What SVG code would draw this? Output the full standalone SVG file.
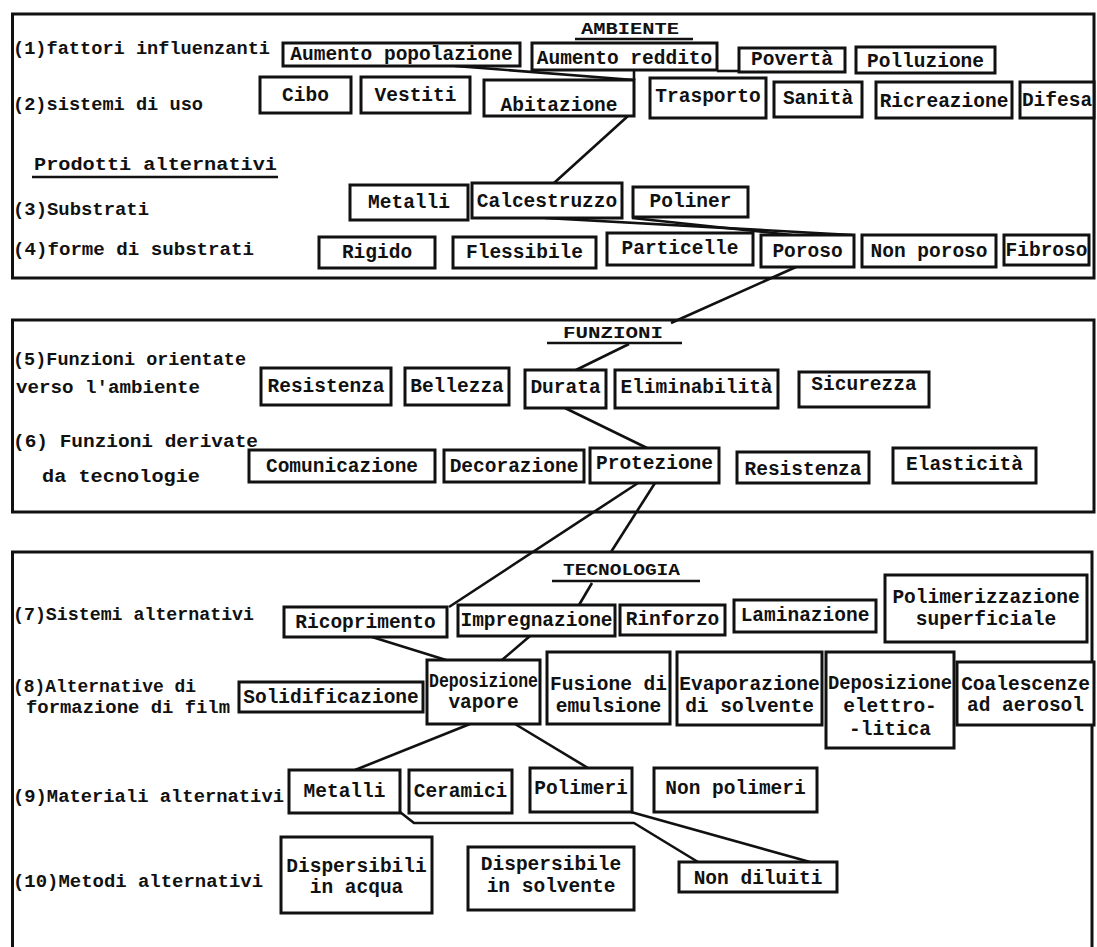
<svg xmlns="http://www.w3.org/2000/svg" width="1097" height="947" viewBox="0 0 1097 947">
  <style>
    .sec { fill: none; stroke: #111; stroke-width: 3; }
    .box { fill: #fff; stroke: #111; stroke-width: 3; }
    .conn { fill: none; stroke: #111; stroke-width: 2.6; stroke-linejoin: round; }
    .ul { stroke: #111; stroke-width: 2.4; }
    text { font-family: "Liberation Mono", "Courier New", monospace; font-weight: bold; fill: #111; }
    .t { font-size: 19.5px; text-anchor: middle; }
    .lbl { font-size: 19px; }
    .ttl { font-size: 16px; }
  </style>
  <rect width="1097" height="947" fill="#fff"/>

  <!-- section frames -->
  <g id="sections">
    <rect class="sec" x="12.5" y="14" width="1081.5" height="264"/>
    <rect class="sec" x="12.5" y="320" width="1081.5" height="192"/>
    <path class="sec" d="M12.5,947 V552 H1092 V947"/>
  </g>

  <!-- section titles -->
  <g id="title-ambiente">
    <text class="ttl" x="581" y="34" textLength="98" lengthAdjust="spacingAndGlyphs">AMBIENTE</text>
    <line class="ul" x1="575" y1="39" x2="693" y2="39"/>
  </g>
  <g id="title-funzioni">
    <text class="ttl" x="563" y="338" textLength="100" lengthAdjust="spacingAndGlyphs">FUNZIONI</text>
    <line class="ul" x1="547" y1="343" x2="682" y2="343"/>
  </g>
  <g id="title-tecnologia">
    <text class="ttl" x="563" y="575" textLength="117" lengthAdjust="spacingAndGlyphs">TECNOLOGIA</text>
    <line class="ul" x1="552" y1="581" x2="700" y2="581"/>
  </g>

  <!-- row labels -->
  <g id="row-labels">
    <text class="lbl" x="13" y="54" textLength="257" lengthAdjust="spacingAndGlyphs">(1)fattori influenzanti</text>
    <text class="lbl" x="13" y="110" textLength="190" lengthAdjust="spacingAndGlyphs">(2)sistemi di uso</text>
    <text class="lbl" x="34" y="170" textLength="243" lengthAdjust="spacingAndGlyphs">Prodotti alternativi</text>
    <line class="ul" x1="32" y1="177" x2="278" y2="177"/>
    <text class="lbl" x="13" y="215" textLength="136" lengthAdjust="spacingAndGlyphs">(3)Substrati</text>
    <text class="lbl" x="13" y="255" textLength="241" lengthAdjust="spacingAndGlyphs">(4)forme di substrati</text>
    <text class="lbl" x="13" y="365" textLength="233" lengthAdjust="spacingAndGlyphs">(5)Funzioni orientate</text>
    <text class="lbl" x="16" y="393" textLength="184" lengthAdjust="spacingAndGlyphs">verso l'ambiente</text>
    <text class="lbl" x="13" y="447" textLength="245" lengthAdjust="spacingAndGlyphs">(6) Funzioni derivate</text>
    <text class="lbl" x="42" y="482" textLength="158" lengthAdjust="spacingAndGlyphs">da tecnologie</text>
    <text class="lbl" x="13" y="620" textLength="241" lengthAdjust="spacingAndGlyphs">(7)Sistemi alternativi</text>
    <text class="lbl" x="13" y="692" textLength="183" lengthAdjust="spacingAndGlyphs">(8)Alternative di</text>
    <text class="lbl" x="26" y="713" textLength="204" lengthAdjust="spacingAndGlyphs">formazione di film</text>
    <text class="lbl" x="13" y="802" textLength="271" lengthAdjust="spacingAndGlyphs">(9)Materiali alternativi</text>
    <text class="lbl" x="13" y="887" textLength="250" lengthAdjust="spacingAndGlyphs">(10)Metodi alternativi</text>
  </g>

  <!-- connectors -->
  <g id="connectors">
    <path class="conn" d="M455,66 L634,80"/>
    <path class="conn" d="M634,70 L634,80"/>
    <path class="conn" d="M717,71 L739,71"/>
    <path class="conn" d="M628,116 L554,183"/>
    <path class="conn" d="M545,218 L852,235"/>
    <path class="conn" d="M632,218 L792,235"/>
    <path class="conn" d="M796,267 L671,323"/>
    <path class="conn" d="M629,344 L576,370"/>
    <path class="conn" d="M565,408 L647,448"/>
    <path class="conn" d="M638,483 L449,607"/>
    <path class="conn" d="M655,483 L611,552"/>
    <path class="conn" d="M592,583 L579,605"/>
    <path class="conn" d="M372,637 L446,660"/>
    <path class="conn" d="M530,636 L502,660"/>
    <path class="conn" d="M470,724 L355,770"/>
    <path class="conn" d="M515,724 L588,768"/>
    <path class="conn" d="M400,812 L414,823 L634,823 L698,862"/>
    <path class="conn" d="M631,812 L810,862"/>
  </g>

  <!-- AMBIENTE: fattori influenzanti -->
  <g id="aumento-popolazione"><rect class="box" x="283" y="43" width="237" height="23"/><text class="t" x="401.5" y="60">Aumento popolazione</text></g>
  <g id="aumento-reddito"><rect class="box" x="532" y="43" width="185" height="27"/><text class="t" x="624.5" y="64">Aumento reddito</text></g>
  <g id="poverta"><rect class="box" x="739" y="48" width="106" height="24"/><text class="t" x="792" y="65">Povertà</text></g>
  <g id="polluzione"><rect class="box" x="856" y="47" width="139" height="26"/><text class="t" x="925.5" y="67">Polluzione</text></g>

  <!-- AMBIENTE: sistemi di uso -->
  <g id="cibo"><rect class="box" x="260" y="77" width="91" height="36"/><text class="t" x="305.5" y="101">Cibo</text></g>
  <g id="vestiti"><rect class="box" x="361" y="77" width="109" height="36"/><text class="t" x="415.5" y="101">Vestiti</text></g>
  <g id="abitazione"><rect class="box" x="484" y="80" width="150" height="36"/><text class="t" x="559" y="111">Abitazione</text></g>
  <g id="trasporto"><rect class="box" x="650" y="78" width="116" height="40"/><text class="t" x="708" y="102">Trasporto</text></g>
  <g id="sanita"><rect class="box" x="774" y="82" width="88" height="35"/><text class="t" x="818" y="104">Sanità</text></g>
  <g id="ricreazione"><rect class="box" x="876" y="82" width="136" height="36"/><text class="t" x="944" y="107">Ricreazione</text></g>
  <g id="difesa"><rect class="box" x="1020" y="82" width="74" height="36"/><text class="t" x="1057" y="106">Difesa</text></g>

  <!-- AMBIENTE: substrati -->
  <g id="metalli-substrato"><rect class="box" x="350" y="185" width="118" height="35"/><text class="t" x="409" y="208">Metalli</text></g>
  <g id="calcestruzzo"><rect class="box" x="472" y="183" width="150" height="35"/><text class="t" x="547" y="207">Calcestruzzo</text></g>
  <g id="poliner"><rect class="box" x="633" y="187" width="115" height="30"/><text class="t" x="690.5" y="207">Poliner</text></g>

  <!-- AMBIENTE: forme di substrati -->
  <g id="rigido"><rect class="box" x="319" y="237" width="116" height="31"/><text class="t" x="377" y="258">Rigido</text></g>
  <g id="flessibile"><rect class="box" x="453" y="237" width="143" height="31"/><text class="t" x="524.5" y="258">Flessibile</text></g>
  <g id="particelle"><rect class="box" x="607" y="233" width="146" height="32"/><text class="t" x="680" y="254">Particelle</text></g>
  <g id="poroso"><rect class="box" x="761" y="235" width="93" height="32"/><text class="t" x="807.5" y="257">Poroso</text></g>
  <g id="non-poroso"><rect class="box" x="862" y="235" width="134" height="32"/><text class="t" x="929" y="257">Non poroso</text></g>
  <g id="fibroso"><rect class="box" x="1004" y="235" width="85" height="30"/><text class="t" x="1046.5" y="256">Fibroso</text></g>

  <!-- FUNZIONI: orientate verso l'ambiente -->
  <g id="resistenza-ambiente"><rect class="box" x="261" y="368" width="130" height="37"/><text class="t" x="326" y="392">Resistenza</text></g>
  <g id="bellezza"><rect class="box" x="405" y="368" width="104" height="37"/><text class="t" x="457" y="392">Bellezza</text></g>
  <g id="durata"><rect class="box" x="525" y="370" width="81" height="38"/><text class="t" x="565.5" y="393">Durata</text></g>
  <g id="eliminabilita"><rect class="box" x="615" y="370" width="163" height="38"/><text class="t" x="696.5" y="393">Eliminabilità</text></g>
  <g id="sicurezza"><rect class="box" x="799" y="372" width="130" height="35"/><text class="t" x="864" y="390">Sicurezza</text></g>

  <!-- FUNZIONI: derivate da tecnologie -->
  <g id="comunicazione"><rect class="box" x="249" y="450" width="186" height="32"/><text class="t" x="342" y="472">Comunicazione</text></g>
  <g id="decorazione"><rect class="box" x="444" y="450" width="140" height="32"/><text class="t" x="514" y="472">Decorazione</text></g>
  <g id="protezione"><rect class="box" x="590" y="448" width="129" height="35"/><text class="t" x="654.5" y="469">Protezione</text></g>
  <g id="resistenza-tecnologia"><rect class="box" x="737" y="452" width="132" height="31"/><text class="t" x="803" y="475">Resistenza</text></g>
  <g id="elasticita"><rect class="box" x="893" y="448" width="143" height="35"/><text class="t" x="964.5" y="470">Elasticità</text></g>

  <!-- TECNOLOGIA: sistemi alternativi -->
  <g id="ricoprimento"><rect class="box" x="284" y="607" width="163" height="30"/><text class="t" x="365.5" y="628">Ricoprimento</text></g>
  <g id="impregnazione"><rect class="box" x="458" y="605" width="157" height="31"/><text class="t" x="536.5" y="626">Impregnazione</text></g>
  <g id="rinforzo"><rect class="box" x="620" y="605" width="105" height="30"/><text class="t" x="672.5" y="625">Rinforzo</text></g>
  <g id="laminazione"><rect class="box" x="734" y="600" width="142" height="32"/><text class="t" x="805" y="621">Laminazione</text></g>
  <g id="polimerizzazione-superficiale"><rect class="box" x="885" y="575" width="202" height="67"/><text class="t" x="986" y="603">Polimerizzazione</text><text class="t" x="986" y="625">superficiale</text></g>

  <!-- TECNOLOGIA: formazione di film -->
  <g id="solidificazione"><rect class="box" x="239" y="682" width="184" height="30"/><text class="t" x="331" y="703">Solidificazione</text></g>
  <g id="deposizione-vapore"><rect class="box" x="427" y="660" width="113" height="64"/><text class="t" x="483.5" y="687" textLength="109" lengthAdjust="spacingAndGlyphs">Deposizione</text><text class="t" x="483.5" y="708">vapore</text></g>
  <g id="fusione-emulsione"><rect class="box" x="547" y="652" width="123" height="72"/><text class="t" x="608.5" y="690">Fusione di</text><text class="t" x="608.5" y="712">emulsione</text></g>
  <g id="evaporazione-solvente"><rect class="box" x="677" y="652" width="145" height="73"/><text class="t" x="749.5" y="690">Evaporazione</text><text class="t" x="749.5" y="712">di solvente</text></g>
  <g id="deposizione-elettrolitica"><rect class="box" x="826" y="652" width="128" height="96"/><text class="t" x="890" y="689" textLength="124" lengthAdjust="spacingAndGlyphs">Deposizione</text><text class="t" x="890" y="712">elettro-</text><text class="t" x="890" y="735">-litica</text></g>
  <g id="coalescenze-aerosol"><rect class="box" x="957" y="662" width="137" height="63"/><text class="t" x="1025.5" y="690">Coalescenze</text><text class="t" x="1025.5" y="711">ad aerosol</text></g>

  <!-- TECNOLOGIA: materiali alternativi -->
  <g id="metalli-materiale"><rect class="box" x="289" y="770" width="111" height="43"/><text class="t" x="344.5" y="797">Metalli</text></g>
  <g id="ceramici"><rect class="box" x="409" y="770" width="103" height="43"/><text class="t" x="460.5" y="797">Ceramici</text></g>
  <g id="polimeri"><rect class="box" x="530" y="768" width="102" height="44"/><text class="t" x="581" y="794">Polimeri</text></g>
  <g id="non-polimeri"><rect class="box" x="654" y="768" width="163" height="44"/><text class="t" x="735.5" y="794">Non polimeri</text></g>

  <!-- TECNOLOGIA: metodi alternativi -->
  <g id="dispersibili-acqua"><rect class="box" x="281" y="837" width="151" height="76"/><text class="t" x="356.5" y="872">Dispersibili</text><text class="t" x="356.5" y="893">in acqua</text></g>
  <g id="dispersibile-solvente"><rect class="box" x="468" y="847" width="166" height="63"/><text class="t" x="551" y="870">Dispersibile</text><text class="t" x="551" y="892">in solvente</text></g>
  <g id="non-diluiti"><rect class="box" x="679" y="862" width="158" height="30"/><text class="t" x="758" y="884">Non diluiti</text></g>
</svg>
